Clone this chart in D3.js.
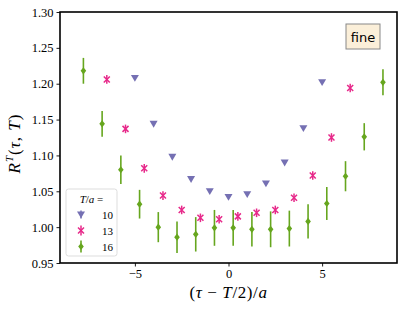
<!DOCTYPE html>
<html lang="en">
<head>
<meta charset="UTF-8">
<title>R^T(tau,T)</title>
<script src="https://d3js.org/d3.v7.min.js"></script>
<style>
  body { margin: 0; background: #fff; }
  svg text { font-family: "Liberation Serif", "DejaVu Serif", serif; }
</style>
</head>
<body>
<svg id="chart" width="407" height="309"></svg>
<script>
// T/a = 10 (integer shifts)
const x10 = [-5, -4, -3, -2, -1, 0, 1, 2, 3, 4, 5];
const y10 = [1.208, 1.144, 1.098, 1.067, 1.050, 1.042, 1.046, 1.061, 1.090, 1.138, 1.202];
const e10 = [0.002, 0.002, 0.002, 0.002, 0.002, 0.002, 0.002, 0.002, 0.002, 0.002, 0.002];

// T/a = 13 (half-integer shifts)
const x13 = [-6.5, -5.5, -4.5, -3.5, -2.5, -1.5, -0.5, 0.5, 1.5, 2.5, 3.5, 4.5, 5.5, 6.5];
const y13 = [1.206, 1.137, 1.082, 1.044, 1.024, 1.013, 1.011, 1.015, 1.020, 1.024, 1.041, 1.072, 1.125, 1.194];
const e13 = [0.006, 0.006, 0.006, 0.006, 0.006, 0.006, 0.006, 0.006, 0.006, 0.006, 0.006, 0.006, 0.006, 0.006];

// T/a = 16 (offset for visibility)
const x16 = [-7.75, -6.75, -5.75, -4.75, -3.75, -2.75, -1.75, -0.75, 0.25, 1.25, 2.25, 3.25, 4.25, 5.25, 6.25, 7.25, 8.25];
const y16 = [1.218, 1.144, 1.080, 1.032, 1.000, 0.986, 0.990, 0.999, 0.999, 0.997, 0.997, 0.998, 1.008, 1.033, 1.071, 1.126, 1.202];
const e16 = [0.018, 0.018, 0.020, 0.020, 0.021, 0.022, 0.024, 0.025, 0.025, 0.024, 0.025, 0.025, 0.024, 0.023, 0.021, 0.019, 0.018];

const xTicks = [-5, 0, 5];
const yTicks = [0.95, 1.00, 1.05, 1.10, 1.15, 1.20, 1.25, 1.30];
const labels = ["10", "13", "16"];
const colors = ["#7570b3", "#e7298a", "#66a61e"];

const margin = { top: 12, right: 10, bottom: 46, left: 60 };
const W = 407, H = 309;
const svg = d3.select("#chart");

const x = d3.scaleLinear().domain([-9, 9]).range([margin.left, W - margin.right]);
const y = d3.scaleLinear().domain([0.95, 1.30]).range([H - margin.bottom, margin.top]);

// marker paths
const triDown = s => `M${-s},${-s * 0.75}L${s},${-s * 0.75}L0,${s * 0.95}Z`;
const diamond = (w, h) => `M0,${-h}L${w},0L0,${h}L${-w},0Z`;
const cross = s => `M${-s},${-s}L${s},${s}M${-s},${s}L${s},${-s}`;

const plot = svg.append("g");

// T/a = 10
plot.selectAll(".t10").data(x10).join("path")
  .attr("transform", (d, i) => `translate(${x(d)},${y(y10[i])})`)
  .attr("d", triDown(4))
  .attr("fill", colors[0]);

// T/a = 13
const g13 = plot.selectAll(".t13").data(x13).join("g")
  .attr("transform", (d, i) => `translate(${x(d)},${y(y13[i])})`);
g13.append("line")
  .attr("y1", (d, i) => y(y13[i] + e13[i]) - y(y13[i]))
  .attr("y2", (d, i) => y(y13[i] - e13[i]) - y(y13[i]))
  .attr("stroke", colors[1]).attr("stroke-width", 1.5);
g13.append("path").attr("d", cross(3))
  .attr("stroke", colors[1]).attr("stroke-width", 1.5).attr("fill", "none");

// T/a = 16
const g16 = plot.selectAll(".t16").data(x16).join("g")
  .attr("transform", (d, i) => `translate(${x(d)},${y(y16[i])})`);
g16.append("line")
  .attr("y1", (d, i) => y(y16[i] + e16[i]) - y(y16[i]))
  .attr("y2", (d, i) => y(y16[i] - e16[i]) - y(y16[i]))
  .attr("stroke", colors[2]).attr("stroke-width", 1.6);
g16.append("path").attr("d", diamond(2.8, 3.6)).attr("fill", colors[2]);

// axes
const xAxis = svg.append("g")
  .attr("transform", `translate(0,${H - margin.bottom})`)
  .call(d3.axisBottom(x).tickValues(xTicks).tickSize(3.5).tickPadding(3)
    .tickFormat(d => d < 0 ? "\u2212" + Math.abs(d) : d));
const yAxis = svg.append("g")
  .attr("transform", `translate(${margin.left},0)`)
  .call(d3.axisLeft(y).tickValues(yTicks).tickSize(3.5).tickPadding(3)
    .tickFormat(d3.format(".2f")));
[xAxis, yAxis].forEach(a => {
  a.select(".domain").remove();
  a.selectAll("text").attr("font-size", 12.5).attr("fill", "#000")
    .style("font-family", "'Liberation Serif', serif");
  a.selectAll("line").attr("stroke", "#000").attr("stroke-width", 0.9);
});

// frame
svg.append("rect")
  .attr("x", margin.left).attr("y", margin.top)
  .attr("width", W - margin.left - margin.right)
  .attr("height", H - margin.top - margin.bottom)
  .attr("fill", "none").attr("stroke", "#000").attr("stroke-width", 1.6);

// axis labels
const xl = svg.append("text")
  .attr("x", x(0)).attr("y", 298)
  .attr("text-anchor", "middle").attr("font-size", 17)
  .attr("letter-spacing", 0.6);
xl.append("tspan").text("(");
xl.append("tspan").attr("font-style", "italic").text("\u03c4");
xl.append("tspan").text(" \u2212 ");
xl.append("tspan").attr("font-style", "italic").text("T");
xl.append("tspan").text("/2)/");
xl.append("tspan").attr("font-style", "italic").text("a");

const yl = svg.append("text")
  .attr("transform", `translate(20,143.5) rotate(-90)`)
  .attr("text-anchor", "middle").attr("font-size", 17)
  .attr("letter-spacing", 1);
yl.append("tspan").attr("font-style", "italic").text("R");
yl.append("tspan").attr("font-style", "italic").attr("font-size", 11).attr("dy", -7).text("T");
yl.append("tspan").attr("dy", 7).text("(");
yl.append("tspan").attr("font-style", "italic").text("\u03c4");
yl.append("tspan").text(", ");
yl.append("tspan").attr("font-style", "italic").text("T");
yl.append("tspan").text(")");

// "fine" tag
svg.append("rect")
  .attr("x", 346).attr("y", 24).attr("width", 34).attr("height", 25)
  .attr("fill", "#fbefd9").attr("stroke", "#888").attr("stroke-width", 1);
svg.append("text")
  .attr("x", 363).attr("y", 41.5).attr("text-anchor", "middle")
  .attr("font-size", 13).style("font-family", "'DejaVu Sans', sans-serif")
  .text("fine");

// legend
const lg = svg.append("g");
lg.append("rect")
  .attr("x", 66).attr("y", 189).attr("width", 51).attr("height", 67).attr("rx", 2.5)
  .attr("fill", "#fff").attr("fill-opacity", 0.8)
  .attr("stroke", "#ddd").attr("stroke-width", 1);
const lt = lg.append("text").attr("x", 91.5).attr("y", 202.5)
  .attr("text-anchor", "middle").attr("font-size", 11);
lt.append("tspan").attr("font-style", "italic").text("T");
lt.append("tspan").text("/");
lt.append("tspan").attr("font-style", "italic").text("a");
lt.append("tspan").text(" =");

labels.forEach((lab, i) => {
  const cy = 214.5 + i * 16;
  const m = lg.append("g").attr("transform", `translate(81,${cy})`);
  if (i === 0) {
    m.append("line").attr("y1", -4).attr("y2", 4).attr("stroke", colors[0]).attr("stroke-width", 1.5);
    m.append("path").attr("d", triDown(4)).attr("fill", colors[0]);
  } else if (i === 1) {
    m.append("line").attr("y1", -5).attr("y2", 5).attr("stroke", colors[1]).attr("stroke-width", 1.5);
    m.append("path").attr("d", cross(3)).attr("stroke", colors[1]).attr("stroke-width", 1.5).attr("fill", "none");
  } else {
    m.append("line").attr("y1", -6).attr("y2", 6).attr("stroke", colors[2]).attr("stroke-width", 1.6);
    m.append("path").attr("d", diamond(2.8, 3.6)).attr("fill", colors[2]);
  }
  lg.append("text").attr("x", 102).attr("y", cy + 4).attr("font-size", 11).text(lab);
});
</script>
</body>
</html>
